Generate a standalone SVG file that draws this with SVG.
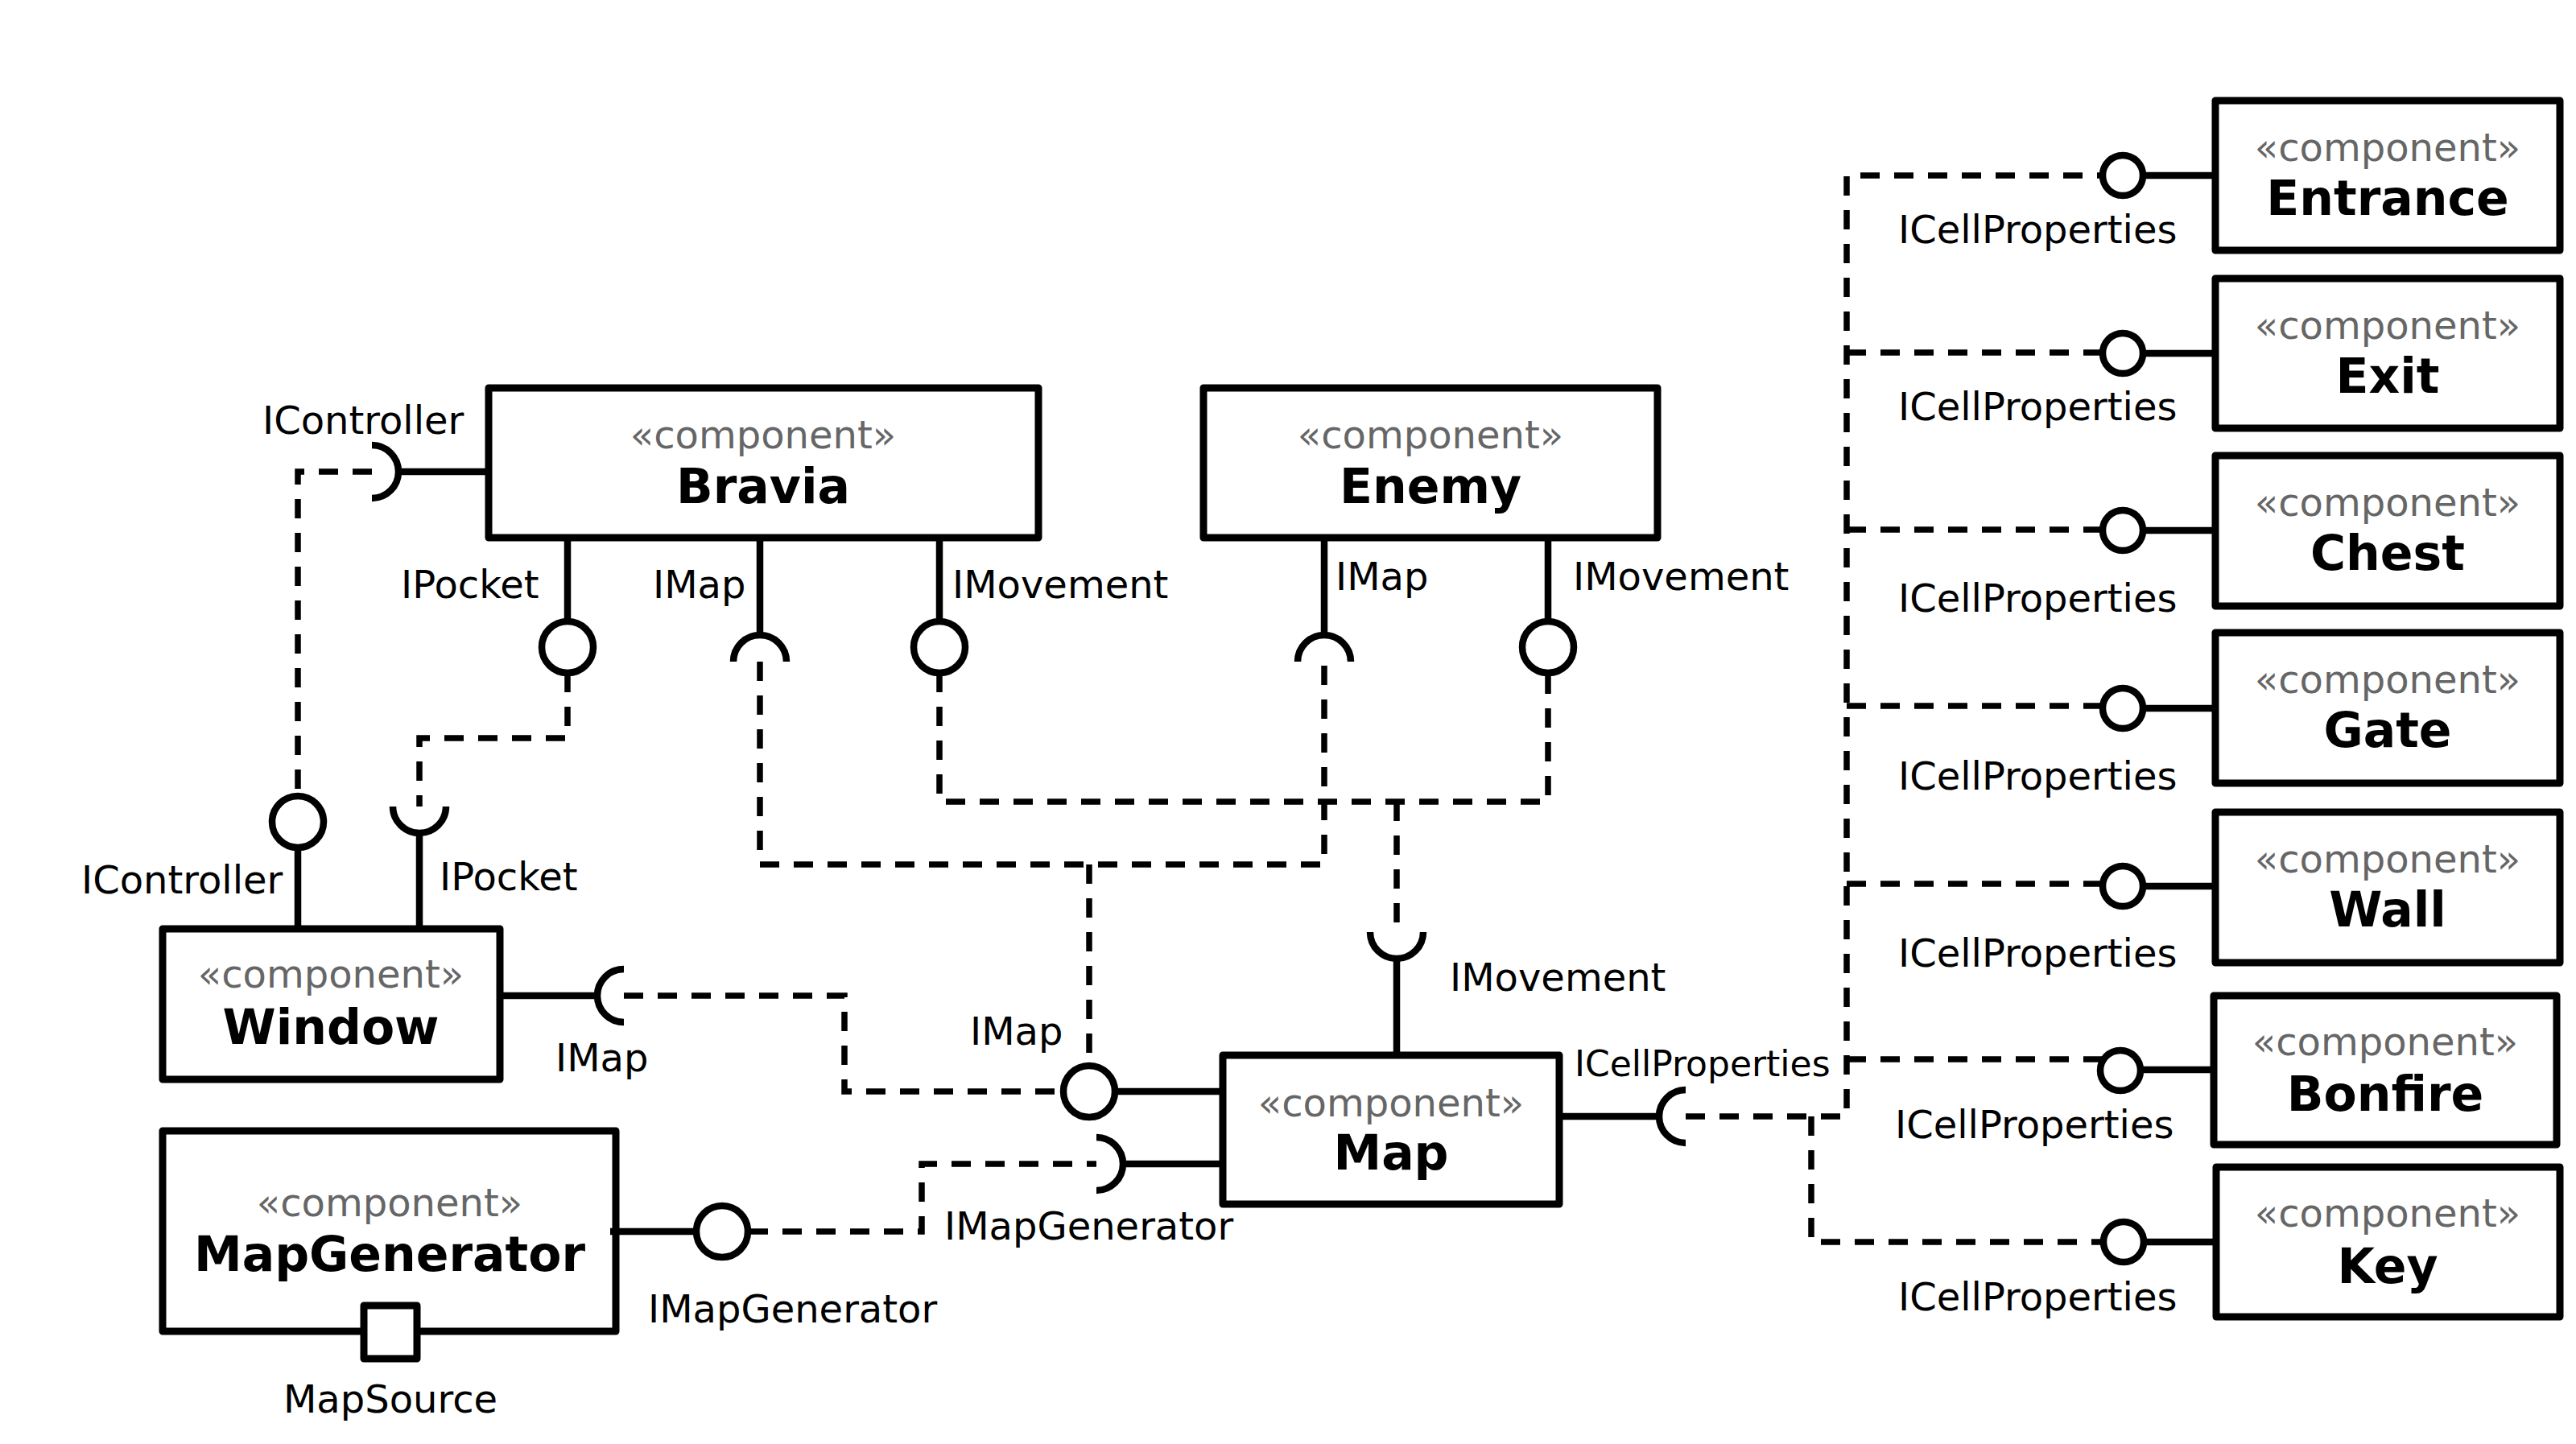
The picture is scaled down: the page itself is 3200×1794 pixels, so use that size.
<svg xmlns="http://www.w3.org/2000/svg" width="3200" height="1794" viewBox="0 0 3200 1794">
<style>
.box{fill:#fff;stroke:#000;stroke-width:9;stroke-linejoin:round}
.st{font-family:"DejaVu Sans","Verdana",sans-serif;font-size:48px;fill:#666;text-anchor:middle}
.nm{font-family:"DejaVu Sans","Verdana",sans-serif;font-size:60px;font-weight:bold;fill:#000;text-anchor:middle}
.lb{font-family:"DejaVu Sans","Verdana",sans-serif;font-size:48px;fill:#000}
.sm{font-size:44px}
.solid{fill:none;stroke:#000;stroke-width:8.5}
.dash{fill:none;stroke:#000;stroke-width:7.5;stroke-dasharray:24 18}
.ball{fill:#fff;stroke:#000;stroke-width:8.5}
.sock{fill:none;stroke:#000;stroke-width:8.5}
</style>
<rect width="3200" height="1794" fill="#fff"/>
<g id="connectors">
<path class="dash" d="M462,586 H370 V988"/>
<path class="dash" d="M705,836 V917 H521 V1002"/>
<path class="dash" d="M944,822 V1074 H1645 V822"/>
<path class="dash" d="M1353,1074 V1323"/>
<path class="dash" d="M1167,836 V996 H1923 V836"/>
<path class="dash" d="M1735,996 V1158"/>
<path class="dash" d="M775,1237 H1049 V1356 H1320"/>
<path class="dash" d="M930,1530 H1145 V1446 H1362"/>
<path class="dash" d="M2094,1387 H2294 V218 H2612"/>
<path class="dash" d="M2294,438 H2612"/>
<path class="dash" d="M2294,658 H2612"/>
<path class="dash" d="M2294,877 H2612"/>
<path class="dash" d="M2294,1098 H2612"/>
<path class="dash" d="M2294,1316 H2612"/>
<path class="dash" d="M2250,1387 V1543 H2613"/>
</g>
<g id="Bravia">
<rect class="box" x="607" y="482" width="683" height="186"/>
<text class="st" x="948" y="557">«component»</text>
<text class="nm" x="948" y="625">Bravia</text>
<path class="solid" d="M495,586 H607"/>
<path class="sock" d="M462,553 A33,33 0 0 1 462,619"/>
<text class="lb" x="326" y="539">IController</text>
<path class="solid" d="M705,668 V772"/>
<circle class="ball" cx="705" cy="804" r="32"/>
<text class="lb" x="498" y="743">IPocket</text>
<path class="solid" d="M944,668 V789"/>
<path class="sock" d="M911,822 A33,33 0 0 1 977,822"/>
<text class="lb" x="811" y="743">IMap</text>
<path class="solid" d="M1167,668 V772"/>
<circle class="ball" cx="1167" cy="804" r="32"/>
<text class="lb" x="1183" y="743">IMovement</text>
</g>
<g id="Enemy">
<rect class="box" x="1495" y="482" width="564" height="186"/>
<text class="st" x="1777" y="557">«component»</text>
<text class="nm" x="1777" y="625">Enemy</text>
<path class="solid" d="M1645,668 V789"/>
<path class="sock" d="M1612,822 A33,33 0 0 1 1678,822"/>
<text class="lb" x="1659" y="733">IMap</text>
<path class="solid" d="M1923,668 V772"/>
<circle class="ball" cx="1923" cy="804" r="32"/>
<text class="lb" x="1954" y="733">IMovement</text>
</g>
<g id="Window">
<rect class="box" x="202" y="1154" width="419" height="187"/>
<text class="st" x="411" y="1227">«component»</text>
<text class="nm" x="411" y="1297">Window</text>
<path class="solid" d="M370,1053 V1154"/>
<circle class="ball" cx="370" cy="1021" r="32"/>
<text class="lb" x="101" y="1110">IController</text>
<path class="solid" d="M521,1035 V1154"/>
<path class="sock" d="M488,1002 A33,33 0 0 0 554,1002"/>
<text class="lb" x="546" y="1106">IPocket</text>
<path class="solid" d="M621,1237 H742"/>
<path class="sock" d="M775,1204 A33,33 0 0 0 775,1270"/>
<text class="lb" x="690" y="1331">IMap</text>
</g>
<g id="MapGenerator">
<rect class="box" x="202" y="1405" width="563" height="249"/>
<text class="st" x="484" y="1511">«component»</text>
<text class="nm" x="484" y="1579">MapGenerator</text>
<path class="solid" d="M758,1530 H865"/>
<circle class="ball" cx="897" cy="1530" r="32"/>
<text class="lb" x="805" y="1643">IMapGenerator</text>
<rect class="box" x="452" y="1622" width="66" height="66"/>
<text class="lb" x="485" y="1755" text-anchor="middle">MapSource</text>
</g>
<g id="Map">
<rect class="box" x="1519" y="1311" width="418" height="185"/>
<text class="st" x="1728" y="1387">«component»</text>
<text class="nm" x="1728" y="1453">Map</text>
<path class="solid" d="M1385,1356 H1519"/>
<circle class="ball" cx="1353" cy="1356" r="32"/>
<text class="lb" x="1205" y="1298">IMap</text>
<path class="solid" d="M1395,1446 H1519"/>
<path class="sock" d="M1362,1413 A33,33 0 0 1 1362,1479"/>
<text class="lb" x="1173" y="1540">IMapGenerator</text>
<path class="solid" d="M1735,1191 V1311"/>
<path class="sock" d="M1702,1158 A33,33 0 0 0 1768,1158"/>
<text class="lb" x="1801" y="1231">IMovement</text>
<path class="solid" d="M1937,1387 H2061"/>
<path class="sock" d="M2094,1354 A33,33 0 0 0 2094,1420"/>
<text class="lb sm" x="1956" y="1337">ICellProperties</text>
</g>
<g id="Entrance">
<rect class="box" x="2752" y="125" width="428" height="186"/>
<text class="st" x="2966" y="200">«component»</text>
<text class="nm" x="2966" y="267">Entrance</text>
<path class="solid" d="M2662,218 H2752"/>
<circle class="ball" cx="2637" cy="218" r="25"/>
<text class="lb" x="2358" y="302">ICellProperties</text>
</g>
<g id="Exit">
<rect class="box" x="2752" y="346" width="428" height="186"/>
<text class="st" x="2966" y="421">«component»</text>
<text class="nm" x="2966" y="488">Exit</text>
<path class="solid" d="M2662,439 H2752"/>
<circle class="ball" cx="2637" cy="439" r="25"/>
<text class="lb" x="2358" y="522">ICellProperties</text>
</g>
<g id="Chest">
<rect class="box" x="2752" y="566" width="428" height="187"/>
<text class="st" x="2966" y="641">«component»</text>
<text class="nm" x="2966" y="708">Chest</text>
<path class="solid" d="M2662,659 H2752"/>
<circle class="ball" cx="2637" cy="659" r="25"/>
<text class="lb" x="2358" y="760">ICellProperties</text>
</g>
<g id="Gate">
<rect class="box" x="2752" y="786" width="428" height="187"/>
<text class="st" x="2966" y="861">«component»</text>
<text class="nm" x="2966" y="928">Gate</text>
<path class="solid" d="M2662,880 H2752"/>
<circle class="ball" cx="2637" cy="880" r="25"/>
<text class="lb" x="2358" y="981">ICellProperties</text>
</g>
<g id="Wall">
<rect class="box" x="2752" y="1009" width="428" height="187"/>
<text class="st" x="2966" y="1084">«component»</text>
<text class="nm" x="2966" y="1151">Wall</text>
<path class="solid" d="M2662,1101 H2752"/>
<circle class="ball" cx="2637" cy="1101" r="25"/>
<text class="lb" x="2358" y="1201">ICellProperties</text>
</g>
<g id="Bonfire">
<rect class="box" x="2750" y="1237" width="426" height="185"/>
<text class="st" x="2963" y="1311">«component»</text>
<text class="nm" x="2963" y="1380">Bonfire</text>
<path class="solid" d="M2659,1329 H2750"/>
<circle class="ball" cx="2634" cy="1330" r="25"/>
<text class="lb" x="2354" y="1414">ICellProperties</text>
</g>
<g id="Key">
<rect class="box" x="2753" y="1450" width="427" height="186"/>
<text class="st" x="2966" y="1524">«component»</text>
<text class="nm" x="2966" y="1594">Key</text>
<path class="solid" d="M2663,1543 H2753"/>
<circle class="ball" cx="2638" cy="1543" r="25"/>
<text class="lb" x="2358" y="1628">ICellProperties</text>
</g>
</svg>
